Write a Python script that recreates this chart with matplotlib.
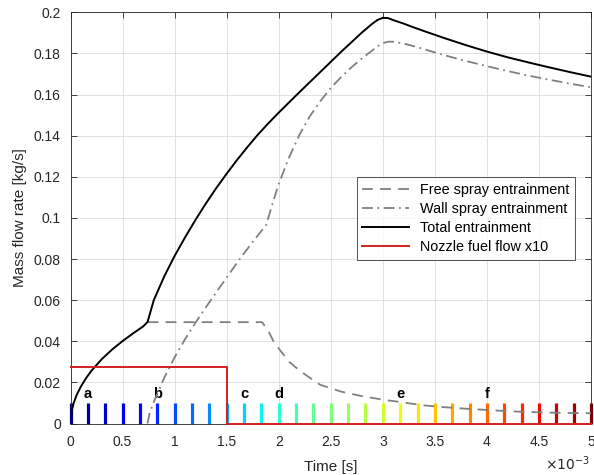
import numpy as np
import matplotlib
matplotlib.use('Agg')
import matplotlib.pyplot as plt

plt.rcParams['font.family'] = ['Liberation Sans', 'DejaVu Sans']

# time in ms (axis shows x10^-3 s)
t_total = [0, 0.01, 0.03, 0.06, 0.1, 0.15, 0.2, 0.3, 0.4, 0.5, 0.6, 0.7, 0.74, 0.8, 0.9,
           1.0, 1.1, 1.2, 1.3, 1.4, 1.5, 1.6, 1.7, 1.8, 1.9, 2.0, 2.2, 2.4, 2.6, 2.8, 2.9,
           2.95, 3.0, 3.05, 3.1, 3.2, 3.3, 3.4, 3.6, 3.8, 4.0, 4.2, 4.4, 4.6, 4.8, 5.0]
m_total = [0, 0.0057, 0.0099, 0.014, 0.018, 0.0221, 0.0256, 0.0313, 0.036, 0.0401, 0.0438,
           0.0473, 0.0494, 0.060, 0.0715, 0.0815, 0.0905, 0.099, 0.107, 0.1145, 0.1215,
           0.1282, 0.1345, 0.1405, 0.146, 0.1512, 0.1612, 0.171, 0.1808, 0.1902, 0.1945,
           0.1963, 0.1973, 0.1972, 0.1962, 0.1945, 0.1926, 0.1908, 0.1873, 0.184, 0.1809,
           0.1781, 0.1756, 0.1732, 0.1709, 0.1687]

t_free = [0.74, 1.84, 1.9, 1.95, 2.0, 2.1, 2.2, 2.3, 2.4, 2.6, 2.8, 3.0, 3.2, 3.4, 3.6,
          3.8, 4.0, 4.2, 4.4, 4.6, 4.8, 5.0]
m_free = [0.0493, 0.0493, 0.045, 0.040, 0.0365, 0.030, 0.0258, 0.0222, 0.0188, 0.0155,
          0.0133, 0.0116, 0.0102, 0.0088, 0.0079, 0.0072, 0.0066, 0.006, 0.0056, 0.0053,
          0.0051, 0.005]

t_wall = [0.74, 0.76, 0.8, 0.9, 1.0, 1.1, 1.2, 1.3, 1.4, 1.5, 1.6, 1.7, 1.8, 1.88, 1.95,
          2.0, 2.1, 2.2, 2.3, 2.4, 2.5, 2.6, 2.7, 2.8, 2.9, 2.95, 3.0, 3.05, 3.1, 3.2, 3.3,
          3.4, 3.6, 3.8, 4.0, 4.2, 4.4, 4.6, 4.8, 5.0]
m_wall = [0, 0.005, 0.0105, 0.0222, 0.0322, 0.041, 0.049, 0.0565, 0.0638, 0.071, 0.0782,
          0.085, 0.0915, 0.0966, 0.1085, 0.1165, 0.1295, 0.1405, 0.1495, 0.1568, 0.1632,
          0.1685, 0.1733, 0.1776, 0.1815, 0.1835, 0.185, 0.1857, 0.1857, 0.1848, 0.1835,
          0.182, 0.179, 0.1763, 0.1738, 0.1714, 0.1692, 0.1672, 0.1653, 0.1635]

t_nozzle = [0, 1.5, 1.5, 5.0]
m_nozzle = [0.0276, 0.0276, 0, 0]

# snapshot markers every 1/6 ms
n_snap = 31
snap_t = np.linspace(0, 5, n_snap)
snap_h = 0.01
snap_letters = ['a', 'b', 'c', 'd', 'e', 'f']
snap_letter_idx = [1, 5, 10, 12, 19, 24]

fig = plt.figure(figsize=(5.94, 4.75), dpi=100)
ax = fig.add_axes([0.1187, 0.1084, 0.8763, 0.8657])

cmap = plt.get_cmap('jet')
for i, t in enumerate(snap_t):
    ax.plot([t, t], [0, snap_h], color=cmap(i / (n_snap - 1)), lw=2.3,
            solid_capstyle='butt', zorder=2, clip_on=False)
for let, i in zip(snap_letters, snap_letter_idx):
    ax.text(snap_t[i], snap_h + 0.0010, let, ha='center', va='bottom',
            fontweight='bold', fontsize=10.5)

gray = '#808080'
ax.plot(t_free, m_free, color=gray, ls=(0, (6, 4)), lw=1.3, label='Free spray entrainment', zorder=3)
ax.plot(t_wall, m_wall, color=gray, ls=(0, (6, 2.5, 1, 2.5)), lw=1.3, label='Wall spray entrainment', zorder=3)
ax.plot(t_total, m_total, color='black', lw=1.4, label='Total entrainment', zorder=4)
ax.plot(t_nozzle, m_nozzle, color='#d42020', lw=1.4, label='Nozzle fuel flow x10',
        zorder=4, clip_on=False)

ax.set_xlim(0, 5)
ax.set_ylim(0, 0.2)
ax.set_xticks(np.arange(0, 5.01, 0.5))
ax.set_yticks(np.arange(0, 0.201, 0.02))
ax.set_xticklabels(['%g' % v for v in np.arange(0, 5.01, 0.5)])
ax.set_yticklabels(['%g' % round(v, 2) for v in np.arange(0, 0.201, 0.02)])

dark = '#262626'
ax.tick_params(direction='in', top=True, right=True, length=4, width=0.6,
               colors=dark, labelsize=10, labelcolor=dark)
ax.tick_params(axis='x', pad=8)
ax.tick_params(axis='y', pad=7)
for s in ax.spines.values():
    s.set_color(dark)
    s.set_linewidth(0.6)
ax.grid(True, color='#dcdcdc', lw=0.6)
ax.set_axisbelow(True)

ax.set_xlabel('Time [s]', fontsize=11, color=dark, labelpad=8)
ax.set_ylabel('Mass flow rate [kg/s]', fontsize=11, color=dark, labelpad=5)
ax.text(0.997, -0.075, r'$\times10^{-3}$', transform=ax.transAxes, ha='right',
        va='top', fontsize=10, color=dark)

leg = ax.legend(loc='lower right', bbox_to_anchor=(0.97, 0.398), borderaxespad=0,
                fontsize=10.4, frameon=True, fancybox=False, handlelength=3.2,
                labelspacing=0.35)
leg.get_frame().set_edgecolor(dark)
leg.get_frame().set_linewidth(0.7)

fig.savefig('out.png', dpi=100)
